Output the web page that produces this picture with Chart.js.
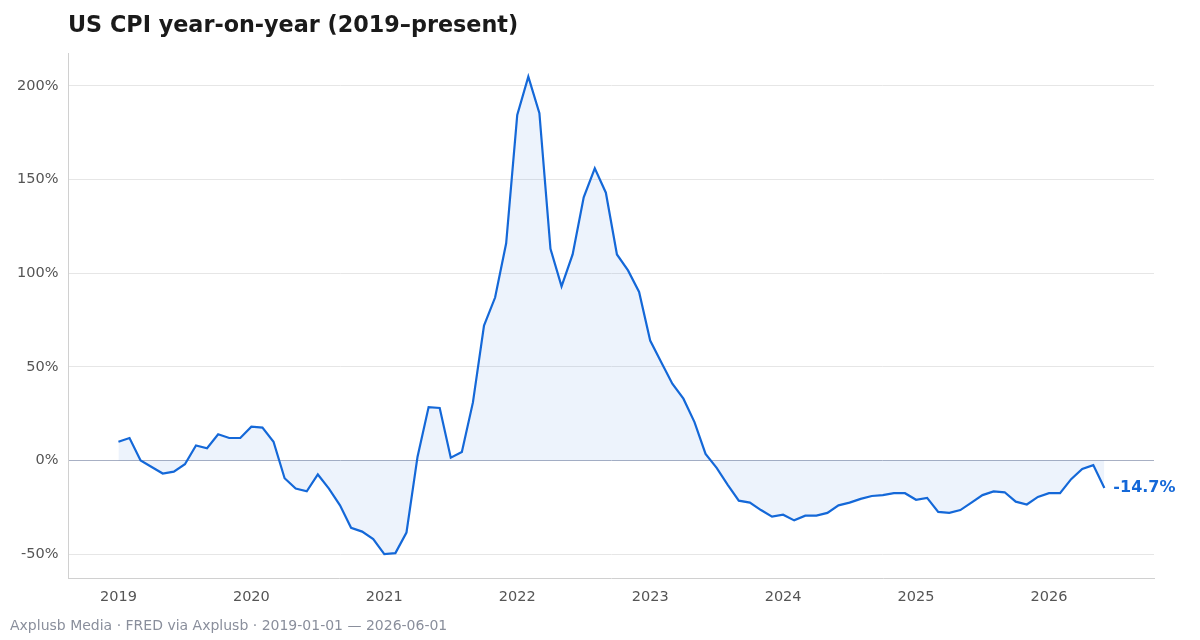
<!DOCTYPE html>
<html><head><meta charset="utf-8">
<script src="https://cdn.jsdelivr.net/npm/chart.js@4"></script>
<style>
body{margin:0;background:#fff;width:1200px;height:640px;overflow:hidden;position:relative;font-family:"DejaVu Sans",sans-serif}
#t{position:absolute;left:68px;top:11px;font-size:22.3px;font-weight:bold;color:#1a1a1a}
#f{position:absolute;left:10px;top:617px;font-size:14px;color:#8a8f9c}
#w{position:absolute;left:0;top:0;width:1200px;height:640px}
</style></head><body>
<div id="w"><canvas id="c"></canvas></div>
<div id="t">US CPI year-on-year (2019–present)</div>
<div id="f">Axplusb Media · FRED via Axplusb · 2019-01-01 — 2026-06-01</div>
<script>
const startYear = 2019;
const yoyValues = [
10,12,0,-3.5,-7,-6,-2,8,6.5,14,12,12,
18,17.5,10,-9.5,-15,-16.5,-7.5,-15,-24,-36,-38,-42,
-50,-49.5,-38.5,2,28.5,28,1.5,4.5,31,72,87,116,
184.5,205,185.5,113,93,110,140.5,156,143,110,101.5,90,
64,52.5,41,33,20.5,3.5,-4,-13,-21.5,-22.5,-26.5,-30,
-29,-32,-29.5,-29.5,-28,-24,-22.5,-20.5,-19,-18.5,-17.5,-17.5,
-21,-20,-27.5,-28,-26.5,-22.5,-18.5,-16.5,-17,-22,-23.5,-19.5,
-17.5,-17.5,-10,-4.5,-2.5,-14.7];
const yTicks = [-50,0,50,100,150,200];
const xTicks = [2019,2020,2021,2022,2023,2024,2025,2026];
const pts = yoyValues.map((v,i)=>({x:startYear+i/12,y:v}));
const endLabel = {id:'endLabel',afterDatasetsDraw(ch){
  const p=pts[pts.length-1];const x=ch.scales.x.getPixelForValue(p.x),y=ch.scales.y.getPixelForValue(p.y);
  const c=ch.ctx;c.save();c.font='bold 16px "DejaVu Sans"';c.fillStyle='#1468d8';c.textBaseline='middle';
  c.fillText(p.y.toFixed(1)+'%',x+9,y);c.restore();}};
new Chart(document.getElementById('c'),{type:'line',
data:{datasets:[{data:pts,borderColor:'#1468d8',borderWidth:2.2,pointRadius:0,tension:0,
 fill:{target:'origin'},backgroundColor:'rgba(20,104,216,0.08)'}]},
options:{responsive:true,maintainAspectRatio:false,animation:false,
 layout:{padding:{top:53,right:46,bottom:30,left:7}},
 plugins:{legend:{display:false},tooltip:{enabled:false}},
 scales:{
  x:{type:'linear',min:2018.624,max:2026.79,afterBuildTicks:a=>{a.ticks=xTicks.map(v=>({value:v}))},
   grid:{display:false,drawTicks:true,tickColor:'#ccc',tickLength:6},border:{color:'#d0d0d0'},
   ticks:{color:'#555',font:{size:14.5,family:'DejaVu Sans'},callback:v=>String(v),padding:4}},
  y:{min:-63.1,max:217.6,afterBuildTicks:a=>{a.ticks=yTicks.map(v=>({value:v}))},
   grid:{color:c=>c.tick&&c.tick.value===0?'#a8b0c4':'#e6e6e6',drawTicks:false},border:{color:'#d0d0d0'},
   ticks:{color:'#555',font:{size:14.5,family:'DejaVu Sans'},callback:v=>v+'%',padding:10}}}},
plugins:[endLabel]});
</script></body></html>
